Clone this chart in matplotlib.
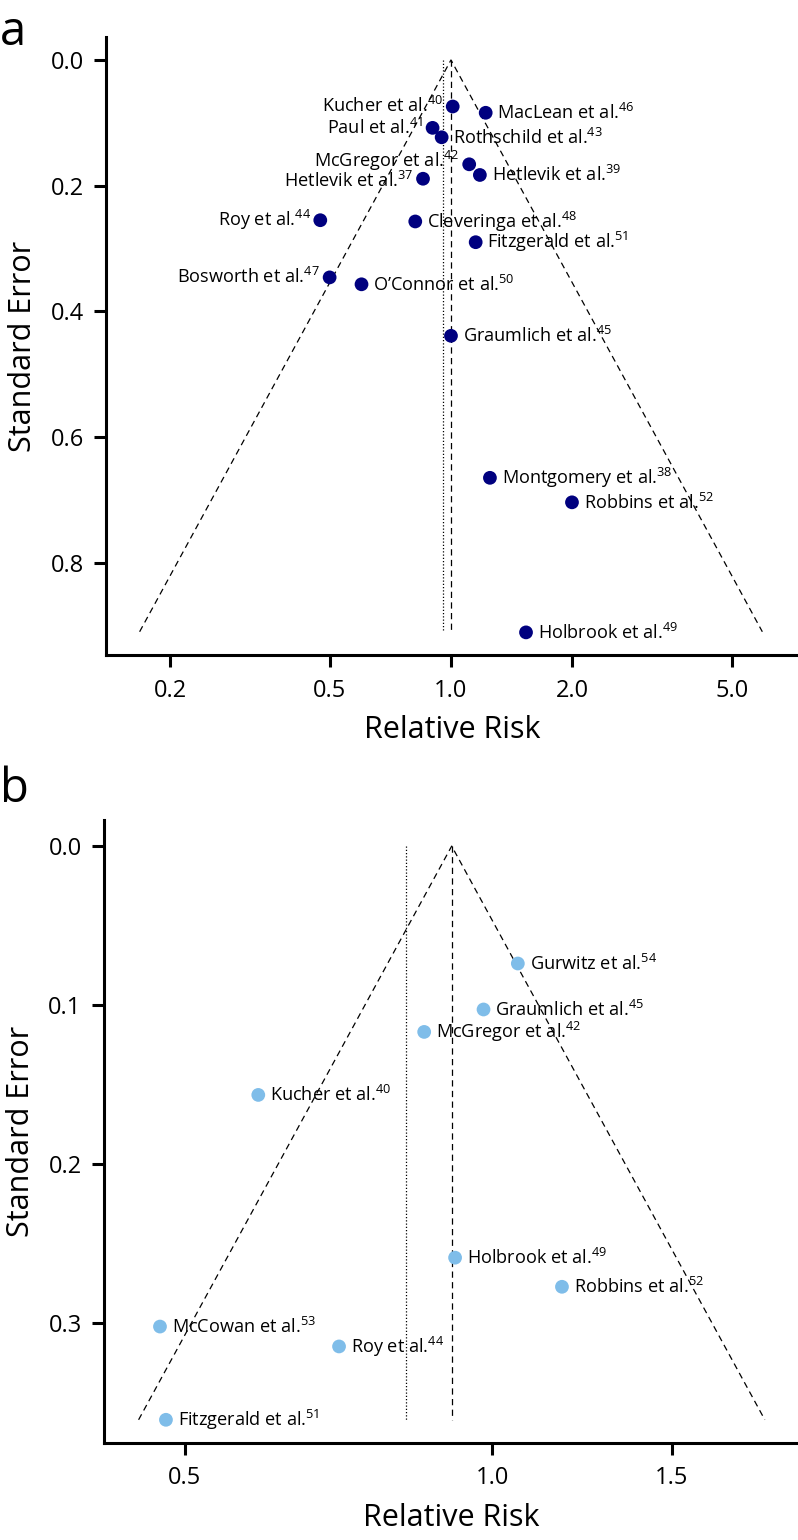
import matplotlib
matplotlib.use('Agg')
import matplotlib.pyplot as plt
import numpy as np
from matplotlib.ticker import FixedLocator, NullLocator, FixedFormatter

plt.rcParams['font.family'] = ['Open Sans', 'DejaVu Sans']
plt.rcParams['mathtext.fontset'] = 'custom'
plt.rcParams['mathtext.rm'] = 'Open Sans'
plt.rcParams['mathtext.it'] = 'Open Sans'

# ---- panel a data ----
a_names = ['Kucher et al.', 'MacLean et al.', 'Paul et al.', 'Rothschild et al.',
           'McGregor et al.', 'Hetlevik et al.', 'Hetlevik et al.', 'Roy et al.',
           'Cleveringa et al.', 'Fitzgerald et al.', 'Bosworth et al.', "O\u2019Connor et al.",
           'Graumlich et al.', 'Montgomery et al.', 'Robbins et al.', 'Holbrook et al.']
a_refs = ['40', '46', '41', '43', '42', '39', '37', '44', '48', '51', '47', '50',
          '45', '38', '52', '49']
a_rr = [1.01, 1.22, 0.90, 0.948, 1.11, 1.18, 0.852, 0.473, 0.815, 1.152, 0.499, 0.599,
        1.00, 1.25, 2.00, 1.537]
a_se = [0.074, 0.084, 0.108, 0.123, 0.166, 0.183, 0.189, 0.255, 0.257, 0.290, 0.346,
        0.357, 0.439, 0.665, 0.704, 0.911]
a_left = ['40', '41', '42', '37', '44', '47']   # labelled on the left of the dot
a_center = 1.0
a_dotted = 0.957
a_se_max = 0.91
a_xticks = [0.2, 0.5, 1.0, 2.0, 5.0]
a_xticklabels = ['0.2', '0.5', '1.0', '2.0', '5.0']
a_yticks = [0.0, 0.2, 0.4, 0.6, 0.8]
a_yticklabels = ['0.0', '0.2', '0.4', '0.6', '0.8']

# ---- panel b data ----
b_names = ['Gurwitz et al.', 'Graumlich et al.', 'McGregor et al.', 'Kucher et al.',
           'Holbrook et al.', 'Robbins et al.', 'McCowan et al.', 'Roy et al.',
           'Fitzgerald et al.']
b_refs = ['54', '45', '42', '40', '49', '52', '53', '44', '51']
b_rr = [1.06, 0.981, 0.858, 0.590, 0.920, 1.171, 0.4726, 0.708, 0.479]
b_se = [0.0738, 0.1027, 0.1168, 0.1564, 0.2587, 0.277, 0.302, 0.3145, 0.3606]
b_center = 0.913
b_dotted = 0.8235
b_se_max = 0.3606
b_xticks = [0.5, 1.0, 1.5]
b_xticklabels = ['0.5', '1.0', '1.5']
b_yticks = [0.0, 0.1, 0.2, 0.3]
b_yticklabels = ['0.0', '0.1', '0.2', '0.3']

W, H = 798, 1540
fig = plt.figure(figsize=(W / 100, H / 100), dpi=100)


def funnel(ax, rr, se, names, refs, left, center, dotted, se_max, color,
           xlim, ylim, xticks, xticklabels, yticks, yticklabels, nudge=None):
    nudge = nudge or {}
    ax.set_xscale('log')
    lo = center * np.exp(-1.96 * se_max)
    hi = center * np.exp(1.96 * se_max)
    ax.plot([lo, center, hi], [se_max, 0, se_max], color='black', lw=0.9,
            dashes=(5, 3.5), zorder=1)
    ax.plot([center, center], [0, se_max], color='black', lw=0.9,
            dashes=(5, 3.5), zorder=1)
    ax.plot([dotted, dotted], [0, se_max], color='black', lw=0.9,
            linestyle=(0, (1, 1.6)), zorder=1)
    ax.scatter(rr, se, s=98, color=color, edgecolors='none', zorder=3)
    for x, y, n, r in zip(rr, se, names, refs):
        lab = n + r'$^{\mathrm{' + r + '}}$'
        if r in left:
            ax.annotate(lab, (x, y), xytext=(-7, nudge.get(r, -4.3)),
                        textcoords='offset points', ha='right', va='baseline',
                        fontsize=13.1, zorder=4)
        else:
            ax.annotate(lab, (x, y), xytext=(8.5, nudge.get(r, -4.5)),
                        textcoords='offset points', ha='left', va='baseline',
                        fontsize=13.1, zorder=4)
    ax.set_xlim(*xlim)
    ax.set_ylim(*ylim)
    ax.xaxis.set_major_locator(FixedLocator(xticks))
    ax.xaxis.set_major_formatter(FixedFormatter(xticklabels))
    ax.xaxis.set_minor_locator(NullLocator())
    ax.set_yticks(yticks)
    ax.set_yticklabels(yticklabels)
    for s in ['top', 'right']:
        ax.spines[s].set_visible(False)
    for s in ['left', 'bottom']:
        ax.spines[s].set_linewidth(2.2)
    ax.tick_params(which='major', direction='out', length=8.6, width=2.2,
                   labelsize=17)
    ax.tick_params(axis='x', pad=8.5)
    ax.tick_params(axis='y', pad=7.5)
    ax.set_xlabel('Relative Risk', fontsize=22)
    ax.set_ylabel('Standard Error', fontsize=22)
    ax.yaxis.set_label_coords(-0.098, 0.5)


# panel a: pixel box 106..798 x 37..655
axa = fig.add_axes([106 / W, 1 - 655 / H, 692 / W, 618 / H])
funnel(axa, a_rr, a_se, a_names, a_refs, a_left, a_center, a_dotted, a_se_max,
       '#00007f', (0.1386, 7.30), (0.947, -0.0366),
       a_xticks, a_xticklabels, a_yticks, a_yticklabels,
       nudge={'42': -2.2, '37': -5.6})
axa.xaxis.set_label_coords(0.5, -0.097)

# panel b: pixel box 104..798 x 820..1442.7
axb = fig.add_axes([104 / W, 1 - 1442.7 / H, 694 / W, 622.7 / H])
funnel(axb, b_rr, b_se, b_names, b_refs, [], b_center, b_dotted, b_se_max,
       '#7fbde9', (0.4165, 1.995), (0.375, -0.0164),
       b_xticks, b_xticklabels, b_yticks, b_yticklabels)
axb.xaxis.set_label_coords(0.5, -0.097)

fig.text(0.0, 1 - 45 / H, 'a', fontsize=34, va='baseline', ha='left')
fig.text(0.0, 1 - 802 / H, 'b', fontsize=34, va='baseline', ha='left')

fig.savefig('out.png', dpi=100)
